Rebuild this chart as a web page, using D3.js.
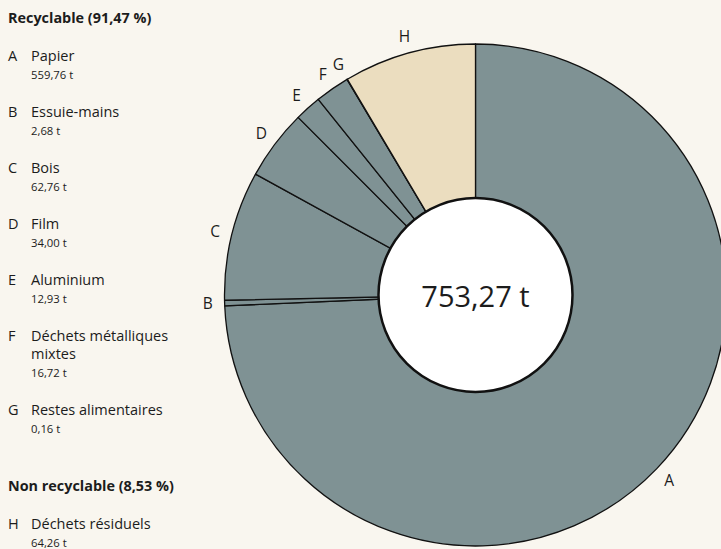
<!DOCTYPE html>
<html>
<head>
<meta charset="utf-8">
<script src="https://cdn.jsdelivr.net/npm/d3@7/dist/d3.min.js"></script>
<style>
	html, body { margin: 0; padding: 0; background: #f9f6ef; }
	svg { display: block; font-family: 'Open Sans', sans-serif; }
	text { fill: #1c1c1c; }
</style>
</head>
<body>
<div id="chart"></div>
<script>
//============================================================
// data
//============================================================

var letters = ['A', 'B', 'C', 'D', 'E', 'F', 'G', 'H'];
var names   = ['Papier', 'Essuie-mains', 'Bois', 'Film', 'Aluminium',
               'Déchets métalliques mixtes', 'Restes alimentaires', 'Déchets résiduels'];
var tonnes  = [559.76, 2.68, 62.76, 34.00, 12.93, 16.72, 0.16, 64.26];
var groupOf = [0, 0, 0, 0, 0, 0, 0, 1];
var groupTitles = ['Recyclable (91,47 %)', 'Non recyclable (8,53 %)'];

//============================================================
// chart
//============================================================

var width   = 721,
    height  = 549,
    cx      = 475.5,
    cy      = 295,
    radius  = 251,
    hole    = 97,
    labelR  = 268,
    colours = ['#7f9294', '#ebddbf'];

var fr = d3.formatLocale({decimal: ',', thousands: '\u202f', grouping: [3], currency: ['', '']});
var fmt = fr.format(',.2f');

var svg = d3.select('#chart')
	.append('svg')
	.attr('width', width)
	.attr('height', height);

var data = letters.map(function(l, i){
	return {letter: l, name: names[i], value: tonnes[i], group: groupOf[i]};
});

var pie = d3.pie()
	.sort(null)
	.value(function(d){ return d.value; });

var arc = d3.arc()
	.innerRadius(0)
	.outerRadius(radius);

var arcs = pie(data);

var g = svg.append('g')
	.attr('transform', 'translate(' + cx + ',' + cy + ')');

g.selectAll('path.slice')
	.data(arcs)
	.enter()
	.append('path')
	.attr('class', 'slice')
	.attr('d', arc)
	.style('fill', function(d){ return colours[d.data.group]; })
	.style('stroke', '#111')
	.style('stroke-width', 1.3)
	.style('stroke-linejoin', 'round');

// white hole with the total
g.append('circle')
	.attr('r', hole)
	.style('fill', '#fff')
	.style('stroke', '#111')
	.style('stroke-width', 2.5);

g.append('text')
	.attr('text-anchor', 'middle')
	.attr('dy', '0.35em')
	.attr('y', 2)
	.style('font-size', '29px')
	.text(fmt(d3.sum(tonnes)) + ' t');

// letters around the pie
function midAngle(d){
	return d.startAngle + (d.endAngle - d.startAngle) / 2;
}

g.selectAll('text.lbl')
	.data(arcs)
	.enter()
	.append('text')
	.attr('class', 'lbl')
	.attr('text-anchor', 'middle')
	.attr('dy', '0.35em')
	.attr('x', function(d){ return labelR * Math.sin(midAngle(d)); })
	.attr('y', function(d){ return -labelR * Math.cos(midAngle(d)); })
	.style('font-size', '15.5px')
	.text(function(d){ return d.data.letter; });

//============================================================
// legend
//============================================================

var legend = svg.append('g').attr('class', 'legend');
var nameX = 31,
    wrapW = 152,
    y     = 17.7;

groupTitles.forEach(function(title, gi){
	if (gi > 0) y += 76;
	legend.append('text')
		.attr('x', 8)
		.attr('y', y)
		.attr('dy', '0.35em')
		.style('font-size', '14.4px')
		.style('font-weight', 'bold')
		.text(title);
	y += 38.3;

	data.filter(function(d){ return d.group === gi; }).forEach(function(d, k){
		if (k > 0) y += 56;
		legend.append('text')
			.attr('x', 8)
			.attr('y', y)
			.attr('dy', '0.35em')
			.style('font-size', '14.5px')
			.text(d.letter);

		// word-wrap the name
		var t = legend.append('text')
			.style('font-size', '14.5px');
		var words = d.name.split(' '),
		    line  = [],
		    ts    = t.append('tspan').attr('x', nameX).attr('y', y).attr('dy', '0.35em');
		words.forEach(function(w){
			line.push(w);
			ts.text(line.join(' '));
			if (ts.node().getComputedTextLength() > wrapW && line.length > 1){
				line.pop();
				ts.text(line.join(' '));
				line = [w];
				y += 18;
				ts = t.append('tspan').attr('x', nameX).attr('y', y).attr('dy', '0.35em').text(w);
			}
		});

		legend.append('text')
			.attr('x', nameX)
			.attr('y', y + 19)
			.attr('dy', '0.35em')
			.style('font-size', '11.3px')
			.text(fmt(d.value) + ' t');
	});
});
</script>
</body>
</html>
